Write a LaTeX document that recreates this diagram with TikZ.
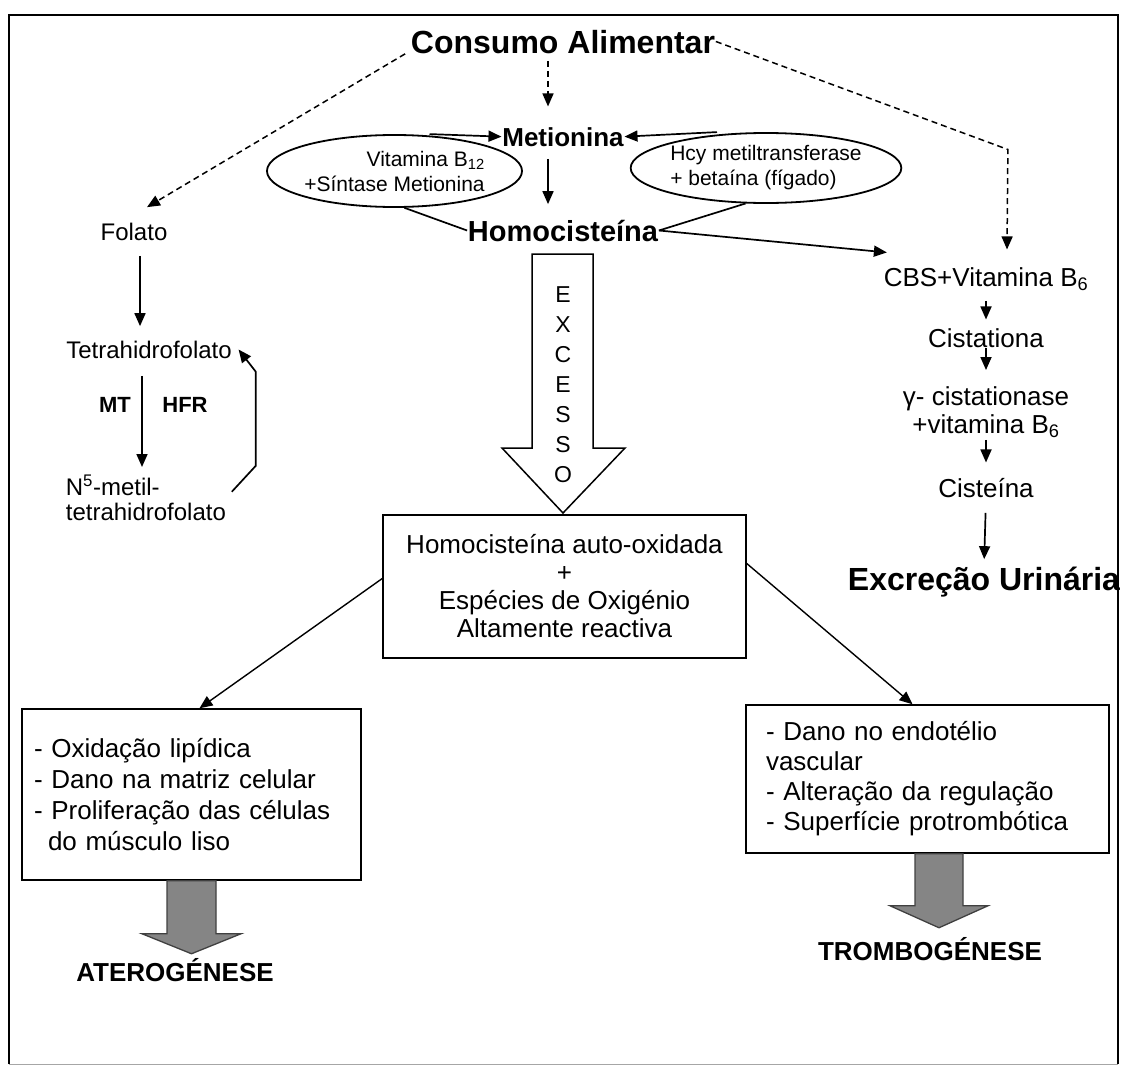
\documentclass[tikz,border=0pt]{standalone}
\usepackage{fontspec}
\setmainfont{Liberation Sans}
\usepackage{tikz}
\usetikzlibrary{positioning}
\usetikzlibrary{shapes.geometric}
\usetikzlibrary{arrows.meta}

\begin{document}
\begin{tikzpicture}[x=1pt, y=-1pt, >={Triangle[length=13pt,width=11pt]}, line width=1.7pt]
		\tikzstyle{textnode} = [inner sep=0pt, text depth=0pt, anchor=base]
		\tikzstyle{ovalnode} = [draw, shape=ellipse, inner sep=0pt, line width=1.8pt, font=\fontsize{21}{25}\selectfont]
		\tikzstyle{boxnode} = [draw, shape=rectangle, inner sep=0pt, line width=1.5pt]
		\tikzstyle{dashedline} = [dash pattern=on 6pt off 4pt, line width=1.5pt]
		\tikzstyle{bigarrow} = [draw=black!75, fill=black!48, line width=1.3pt]
		\useasboundingbox (0,0) rectangle (1124,1068);
	% Moldura
		\draw[line width=1.5pt] (9,1064) -- (9,15) -- (1118,15) -- (1118,1064);
		\draw[black!35, line width=1pt] (9,1064) -- (1118,1064);

	% Nos
		\node[textnode, font=\fontsize{32}{32}\selectfont\bfseries, text height=23pt] (consumo) at (563,53) {Consumo Alimentar};
		\node[textnode, font=\fontsize{26}{26}\selectfont\bfseries, text height=18.7pt] (met) at (563,146) {Metionina};
		\node[textnode, font=\fontsize{29}{29}\selectfont\bfseries, text height=21pt] (hcy) at (563,241) {Homocisteína};

		\node[ovalnode, minimum width=215pt, minimum height=72pt, align=right] (ellL) at (394.5,171) {Vitamina B\textsubscript{12}\\+Síntase Metionina};
		\node[ovalnode, minimum width=242pt, minimum height=70pt, align=left] (ellR) at (766,168) {Hcy metiltransferase\\+ betaína (fígado)};

		\node[textnode, font=\fontsize{24}{24}\selectfont, text height=17pt] (folato) at (134,240) {Folato};
		\node[textnode, font=\fontsize{24}{24}\selectfont, text height=17pt] (thf) at (149,358) {Tetrahidrofolato};
		\node[textnode, font=\fontsize{22}{22}\selectfont\bfseries, text height=16pt] (mt) at (115,412) {MT};
		\node[textnode, font=\fontsize{22}{22}\selectfont\bfseries, text height=16pt] (hfr) at (185,412) {HFR};
		\node[inner sep=0pt, anchor=north west, align=left, font=\fontsize{24}{25}\selectfont] (n5) at (65,474) {N\textsuperscript{5}-metil-\\tetrahidrofolato};

		\node[textnode, font=\fontsize{26}{26}\selectfont, text height=18.7pt] (cbs) at (986,286) {CBS+Vitamina B\textsubscript{6}};
		\node[textnode, font=\fontsize{26}{26}\selectfont, text height=18.7pt] (cist) at (986,347) {Cistationa};
		\node[inner sep=0pt, anchor=north, align=center, font=\fontsize{26}{28}\selectfont] (gcist) at (986,386) {γ- cistationase\\+vitamina B\textsubscript{6}};
		\node[textnode, font=\fontsize{26}{26}\selectfont, text height=18.7pt] (cisteina) at (986,497) {Cisteína};
		\node[textnode, font=\fontsize{32}{32}\selectfont\bfseries, text height=23pt] (excr) at (984,590) {Excreção Urinária};

		\draw[line width=1.5pt] (532,254) -- (593,254) -- (593,448) -- (625,448) -- (563,513) -- (502,448) -- (532,448) -- cycle;
		\node[inner sep=0pt, align=center, font=\fontsize{23}{30}\selectfont] (excesso) at (563,385) {E\\X\\C\\E\\S\\S\\O};

		\node[boxnode, minimum width=363pt, minimum height=143pt, align=center, font=\fontsize{26}{28}\selectfont] (oxid) at (564.5,586.5) {Homocisteína auto-oxidada\\+\\Espécies de Oxigénio\\Altamente reactiva};
		\node[boxnode, minimum width=339pt, minimum height=171pt, text width=315pt, inner xsep=12pt, align=left, font=\fontsize{26}{31}\selectfont] (lbox) at (191.5,794.5) {- Oxidação lipídica\\- Dano na matriz celular\\- Proliferação das células\\\hspace*{14pt}do músculo liso};
		\node[boxnode, minimum width=363pt, minimum height=148pt, text width=323pt, inner xsep=20pt, align=left, font=\fontsize{26}{30}\selectfont] (rbox) at (927.5,779) {- Dano no endotélio\\vascular\\- Alteração da regulação\\- Superfície protrombótica};

		\draw[bigarrow] ([xshift=-24.5pt]lbox.south) -- ++(0,53) -- ++(-25,0) -- ++(49.5,20) -- ++(49.5,-20) -- ++(-25,0) -- ++(0,-53) -- cycle;
		\draw[bigarrow] ([xshift=-12.5pt]rbox.south) -- ++(0,52) -- ++(-25,0) -- ++(49,22) -- ++(49,-22) -- ++(-25,0) -- ++(0,-52) -- cycle;
		\node[textnode, font=\fontsize{26}{26}\selectfont\bfseries, text height=18.7pt] (atero) at (175,981) {ATEROGÉNESE};
		\node[textnode, font=\fontsize{26}{26}\selectfont\bfseries, text height=18.7pt] (trombo) at (930,960) {TROMBOGÉNESE};

	% Ligacoes
		\draw[dashedline, ->] ([xshift=-5pt]consumo.south west) -- ([xshift=13pt,yshift=15pt]folato.north);
		\draw[dashedline, ->, shorten <=7pt, shorten >=20pt] ([xshift=-15pt]consumo.south) -- ([xshift=-15pt]met.north);
		\draw[dashedline, ->] (consumo.east) -- ++(292,108) -- ([xshift=21pt,yshift=17pt]cbs.north);

		\draw[->] ([xshift=35pt]ellL.north) -- (met.west);
		\draw[->] ([xshift=-49pt]ellR.north) -- (met.east);
		\draw[->, shorten <=12pt, shorten >=15pt] ([xshift=-15pt]met.south) -- ([xshift=-15pt]hcy.north);
		\draw (ellL.-75) -- (hcy.west);
		\draw (ellR.-120) -- (hcy.east);
		\draw[->] (hcy.east) -- ([xshift=4pt,yshift=14pt]cbs.north west);

		\draw[->, shorten <=15pt, shorten >=14pt] ([xshift=6pt]folato.south) -- ([xshift=-9pt]thf.north);
		\draw[->, shorten <=17pt, shorten >=7pt] ([xshift=-7pt]thf.south) -- ([xshift=77pt]n5.north west);
		\draw[->] ([xshift=5pt,yshift=6pt]n5.east) -- ++(24,-26) -- ++(0,-94) -- ([xshift=6pt]thf.east);

		\draw[->, shorten <=14pt, shorten >=8pt] (cbs.south) -- (cist.north);
		\draw[->, shorten >=16pt] (cist.south) -- (gcist.north);
		\draw[->, shorten <=1pt, shorten >=15pt] (gcist.south) -- (cisteina.north);
		\draw[->, shorten <=15pt, shorten >=7pt] (cisteina.south) -- (excr.north);

		\draw[->, line width=1.4pt] ([yshift=8pt]oxid.west) -- ([xshift=8pt]lbox.north);
		\draw[->, line width=1.4pt] ([yshift=23pt]oxid.east) -- ([xshift=-15pt]rbox.north);
	\end{tikzpicture}
\end{document}
